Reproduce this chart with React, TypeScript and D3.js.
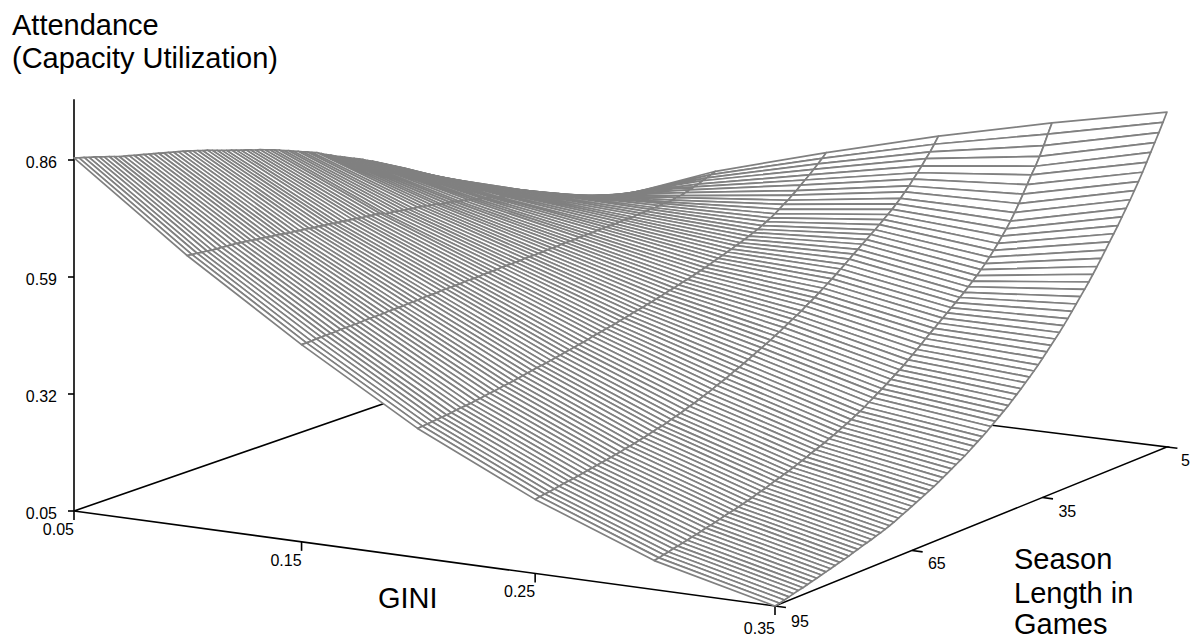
import React, { useEffect, useRef } from "react";
import * as d3 from "d3";

// axis ticks as printed on the chart
const giniTicks = [0.05, 0.15, 0.25, 0.35];
const seasonTicks = [95, 65, 35, 5];
const attendanceTicks = [0.05, 0.32, 0.59, 0.86];

// gini levels that get a mesh line, one attendance series for each
const giniLevels = [0.05, 0.1, 0.15, 0.2, 0.25, 0.3, 0.35];

// season lengths of the dense lines, front to back
const seasons = d3.range(95, 4, -1);

// attendance, season 95 down to season 5
const attendanceGini05 = [
  .865, .861, .858, .854, .851, .847, .843, .840, .836, .832, .829,
  .826, .823, .820, .817, .814, .811, .808, .805, .802, .799,
  .796, .793, .790, .786, .783, .779, .776, .772, .768, .764,
  .760, .757, .753, .749, .746, .742, .738, .735, .731, .727,
  .723, .719, .714, .710, .705, .701, .696, .692, .687, .683,
  .677, .671, .666, .660, .655, .650, .645, .640, .635, .630,
  .624, .619, .613, .607, .601, .595, .589, .583, .577, .570,
  .563, .557, .550, .544, .537, .528, .520, .513, .506, .498,
  .487, .477, .467, .456, .446, .434, .422, .409, .395, .381,
];
const attendanceGini10 = [
  .675, .673, .672, .670, .669, .667, .666, .665, .664, .663, .662,
  .660, .659, .657, .655, .654, .652, .650, .649, .647, .645,
  .643, .642, .640, .639, .637, .635, .634, .632, .631, .629,
  .627, .626, .624, .623, .621, .619, .618, .616, .615, .613,
  .609, .607, .606, .604, .602, .600, .598, .597, .595, .593,
  .591, .589, .586, .584, .582, .580, .577, .575, .573, .570,
  .567, .565, .562, .560, .557, .553, .551, .548, .546, .543,
  .540, .537, .535, .532, .530, .526, .522, .518, .514, .509,
  .503, .499, .494, .489, .483, .478, .473, .468, .464, .460,
];
const attendanceGini15 = [
  .505, .505, .505, .506, .506, .506, .506, .506, .507, .507, .507,
  .507, .507, .508, .508, .508, .508, .508, .509, .509, .509,
  .509, .510, .510, .510, .511, .511, .511, .511, .512, .512,
  .512, .512, .512, .513, .513, .513, .513, .514, .514, .514,
  .514, .515, .515, .515, .515, .515, .516, .516, .516, .516,
  .516, .517, .517, .517, .518, .518, .518, .518, .519, .519,
  .519, .519, .520, .520, .520, .520, .520, .521, .521, .521,
  .521, .522, .522, .523, .524, .524, .525, .526, .526, .527,
  .529, .530, .533, .536, .539, .542, .546, .549, .553, .557,
];
const attendanceGini20 = [
  .348, .349, .350, .351, .352, .353, .354, .355, .357, .358, .359,
  .360, .362, .363, .365, .367, .368, .370, .372, .373, .375,
  .377, .379, .381, .383, .385, .386, .388, .390, .392, .394,
  .396, .398, .400, .402, .404, .406, .409, .411, .413, .415,
  .417, .419, .422, .424, .426, .429, .431, .433, .436, .438,
  .441, .443, .446, .449, .451, .454, .457, .459, .462, .465,
  .468, .471, .474, .478, .481, .484, .488, .491, .495, .498,
  .502, .506, .510, .514, .519, .524, .529, .535, .542, .549,
  .555, .563, .570, .579, .587, .595, .604, .613, .622, .632,
];
const attendanceGini25 = [
  .221, .223, .225, .226, .228, .230, .232, .234, .235, .237, .239,
  .241, .243, .245, .247, .249, .251, .253, .255, .258, .260,
  .262, .265, .267, .270, .273, .276, .278, .281, .285, .288,
  .291, .295, .299, .302, .306, .310, .314, .318, .323, .327,
  .331, .336, .341, .345, .350, .355, .360, .365, .370, .375,
  .380, .386, .391, .397, .403, .409, .414, .420, .427, .433,
  .439, .446, .453, .460, .467, .474, .482, .489, .497, .505,
  .512, .520, .527, .535, .542, .550, .558, .566, .574, .583,
  .592, .603, .613, .625, .636, .648, .661, .673, .687, .702,
];
const attendanceGini30 = [
  .117, .119, .122, .124, .127, .129, .132, .134, .137, .139, .142,
  .145, .147, .150, .153, .156, .159, .161, .164, .167, .170,
  .173, .177, .180, .183, .187, .191, .194, .198, .201, .205,
  .209, .213, .217, .222, .226, .230, .234, .239, .243, .248,
  .253, .258, .263, .269, .274, .280, .287, .293, .300, .306,
  .313, .320, .327, .334, .341, .349, .357, .365, .373, .382,
  .390, .398, .406, .414, .422, .430, .438, .446, .454, .463,
  .472, .481, .491, .501, .512, .524, .536, .549, .562, .576,
  .592, .609, .627, .645, .664, .680, .699, .720, .743, .765,
];
const attendanceGini35 = [
  .050, .052, .055, .058, .061, .064, .066, .069, .072, .075, .078,
  .081, .084, .087, .090, .093, .096, .100, .103, .107, .110,
  .113, .117, .120, .124, .128, .132, .137, .142, .147, .152,
  .157, .162, .167, .172, .177, .183, .189, .195, .201, .207,
  .213, .219, .226, .233, .240, .247, .254, .262, .270, .278,
  .286, .294, .303, .312, .321, .331, .340, .350, .360, .371,
  .382, .393, .404, .415, .427, .439, .452, .465, .478, .491,
  .504, .518, .532, .547, .562, .577, .592, .607, .623, .639,
  .655, .672, .689, .707, .726, .745, .764, .783, .803, .823,
];
const attendanceSeries = [
  attendanceGini05,
  attendanceGini10,
  attendanceGini15,
  attendanceGini20,
  attendanceGini25,
  attendanceGini30,
  attendanceGini35,
];

const width = 1190;
const height = 640;
const font = "'Liberation Sans', Arial, sans-serif";

// floor corners in the picture: gini low/high against season long/short
const floor = {
  frontLeft: [74, 511],
  frontRight: [775, 606],
  backRight: [1167, 447],
  backLeft: [498, 364],
};

// square to quad perspective, so the floor shrinks towards the back
const floorProjection = () => {
  const [x0, y0] = floor.frontLeft;
  const [x1, y1] = floor.frontRight;
  const [x2, y2] = floor.backRight;
  const [x3, y3] = floor.backLeft;
  const sx = x0 - x1 + x2 - x3;
  const sy = y0 - y1 + y2 - y3;
  const dx1 = x1 - x2;
  const dx2 = x3 - x2;
  const dy1 = y1 - y2;
  const dy2 = y3 - y2;
  const det = dx1 * dy2 - dx2 * dy1;
  const g = (sx * dy2 - dx2 * sy) / det;
  const h = (dx1 * sy - sx * dy1) / det;
  const a = x1 - x0 + g * x1;
  const b = x3 - x0 + h * x3;
  const d = y1 - y0 + g * y1;
  const e = y3 - y0 + h * y3;
  return (u: number, v: number) => {
    const w = g * u + h * v + 1;
    return [(a * u + b * v + x0) / w, (d * u + e * v + y0) / w];
  };
};

const App = () => {
  const svgRef = useRef<SVGSVGElement>(null);

  useEffect(() => {
    const svg = d3.select(svgRef.current);
    svg.selectAll("*").remove();

    const giniScale = d3.scaleLinear().domain([0.05, 0.35]).range([0, 1]);
    const seasonScale = d3.scaleLinear().domain([95, 5]).range([0, 1]);
    // pixels above the floor, 351px between 0.05 and 0.86
    const attendanceScale = d3.scaleLinear().domain([0.05, 0.86]).range([0, 351]);

    const onFloor = floorProjection();
    const project = (gini: number, season: number, attendance = 0.05) => {
      const [x, y] = onFloor(giniScale(gini), seasonScale(season));
      return [x, y - attendanceScale(attendance)] as [number, number];
    };

    const line = d3.line();
    const axes = svg
      .append("g")
      .attr("fill", "none")
      .attr("stroke", "#000")
      .attr("stroke-width", 1.6);

    // floor outline, the surface covers the part behind it
    axes
      .append("path")
      .attr(
        "d",
        line([
          project(0.05, 5),
          project(0.05, 95),
          project(0.35, 95),
          project(0.35, 5),
          project(0.05, 5),
        ])
      );
    // vertical axis runs on past the last tick
    axes.append("path").attr("d", line([project(0.05, 95), project(0.05, 95, 1)]));

    attendanceTicks.forEach((t) => {
      const [x, y] = project(0.05, 95, t);
      axes.append("path").attr("d", line([[x - 6, y], [x, y]]));
    });
    giniTicks.forEach((t) => {
      const [x, y] = project(t, 95);
      axes.append("path").attr("d", line([[x, y], [x, y + 9]]));
    });
    seasonTicks.forEach((t) => {
      axes.append("path").attr("d", line([project(0.35, t), project(0.3545, t)]));
    });

    // painter's order: far corner first, white cells hide what lies behind
    const mesh = svg
      .append("g")
      .attr("fill", "#fff")
      .attr("stroke", "#808080")
      .attr("stroke-width", 1.7)
      .attr("stroke-linejoin", "round");
    for (let s = seasons.length - 2; s >= 0; s--) {
      for (let g = 0; g < giniLevels.length - 1; g++) {
        const cell = [
          project(giniLevels[g], seasons[s], attendanceSeries[g][s]),
          project(giniLevels[g + 1], seasons[s], attendanceSeries[g + 1][s]),
          project(giniLevels[g + 1], seasons[s + 1], attendanceSeries[g + 1][s + 1]),
          project(giniLevels[g], seasons[s + 1], attendanceSeries[g][s + 1]),
        ];
        mesh.append("path").attr("d", line(cell) + "Z");
      }
    }

    const labels = svg.append("g").attr("font-family", font).attr("fill", "#000");

    attendanceTicks.forEach((t) => {
      const [x, y] = project(0.05, 95, t);
      labels
        .append("text")
        .attr("x", x - 17)
        .attr("y", y + 8)
        .attr("text-anchor", "end")
        .attr("font-size", 16)
        .text(t.toFixed(2));
    });
    giniTicks.forEach((t) => {
      const [x, y] = project(t, 95);
      labels
        .append("text")
        .attr("x", x)
        .attr("y", y + (t === 0.35 ? 28 : 24))
        .attr("text-anchor", "end")
        .attr("font-size", 16)
        .text(t.toFixed(2));
    });
    seasonTicks.forEach((t) => {
      const [x, y] = project(0.35, t);
      labels
        .append("text")
        .attr("x", x + (t === 5 ? 14 : 16))
        .attr("y", y + (t === 95 ? 21 : 19))
        .attr("font-size", 16)
        .text(t);
    });

    const titles = [
      { text: "Attendance", x: 12, y: 35 },
      { text: "(Capacity Utilization)", x: 12, y: 68 },
      { text: "GINI", x: 378, y: 608 },
      { text: "Season", x: 1014, y: 569 },
      { text: "Length in", x: 1014, y: 603 },
      { text: "Games", x: 1014, y: 634 },
    ];
    labels
      .selectAll(".title")
      .data(titles)
      .join("text")
      .attr("class", "title")
      .attr("x", (d) => d.x)
      .attr("y", (d) => d.y)
      .attr("font-size", 29)
      .text((d) => d.text);
  }, []);

  return (
    <svg
      ref={svgRef}
      width={width}
      height={height}
      style={{ position: "absolute", left: 0, top: 0, display: "block", background: "#fff" }}
    ></svg>
  );
};

export default App;
